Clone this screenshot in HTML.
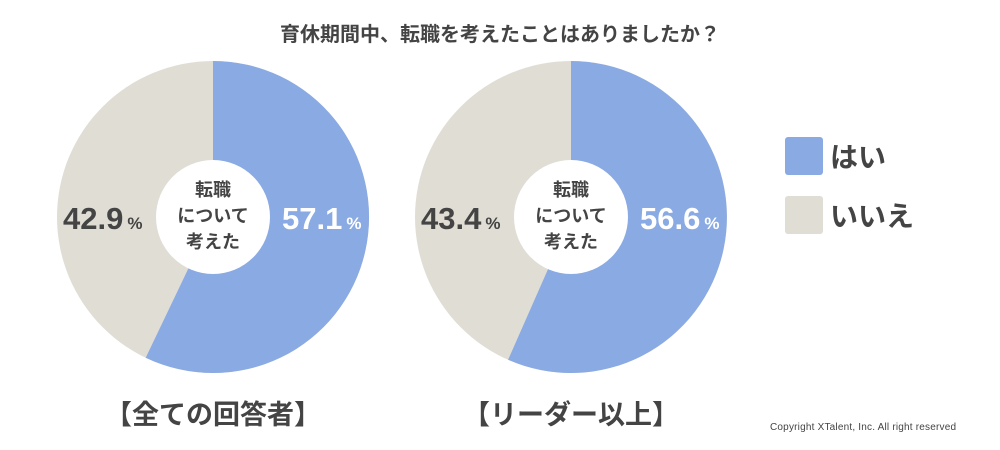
<!DOCTYPE html>
<html><head><meta charset="utf-8"><style>
html,body{margin:0;padding:0;background:#fff;}
svg{display:block;font-family:"Liberation Sans","Noto Sans CJK JP",sans-serif;}
</style></head><body>
<svg width="1000" height="450" viewBox="0 0 1000 450">
<text x="500" y="41" text-anchor="middle" font-size="20" font-weight="bold" fill="#444">育休期間中、転職を考えたことはありましたか？</text>

<circle cx="213" cy="217" r="156" fill="#e0ddd5"/>
<path d="M213,217 L213,61 A156,156 0 1,1 145.7,357.7 Z" fill="#8aaae3"/>
<circle cx="213" cy="217" r="57" fill="#fff"/>
<text x="213" y="196" text-anchor="middle" font-size="18" font-weight="bold" fill="#444">転職</text>
<text x="213" y="222" text-anchor="middle" font-size="18" font-weight="bold" fill="#444">について</text>
<text x="213" y="248" text-anchor="middle" font-size="18" font-weight="bold" fill="#444">考えた</text>
<text x="63" y="229" font-size="31" font-weight="bold" fill="#444">42.9<tspan dx="4" font-size="17">%</tspan></text>
<text x="282" y="229" font-size="31" font-weight="bold" fill="#fff">57.1<tspan dx="4" font-size="17">%</tspan></text>

<circle cx="571" cy="217" r="156" fill="#e0ddd5"/>
<path d="M571,217 L571,61 A156,156 0 1,1 508.1,359.8 Z" fill="#8aaae3"/>
<circle cx="571" cy="217" r="57" fill="#fff"/>
<text x="571" y="196" text-anchor="middle" font-size="18" font-weight="bold" fill="#444">転職</text>
<text x="571" y="222" text-anchor="middle" font-size="18" font-weight="bold" fill="#444">について</text>
<text x="571" y="248" text-anchor="middle" font-size="18" font-weight="bold" fill="#444">考えた</text>
<text x="421" y="229" font-size="31" font-weight="bold" fill="#444">43.4<tspan dx="4" font-size="17">%</tspan></text>
<text x="640" y="229" font-size="31" font-weight="bold" fill="#fff">56.6<tspan dx="4" font-size="17">%</tspan></text>

<rect x="785" y="137" width="38" height="38" rx="3" fill="#8aaae3"/>
<text x="830" y="167" font-size="28" font-weight="bold" fill="#444">はい</text>
<rect x="785" y="196" width="38" height="38" rx="3" fill="#e0ddd5"/>
<text x="830" y="226" font-size="28" font-weight="bold" fill="#444">いいえ</text>

<text x="213" y="424" text-anchor="middle" font-size="27" font-weight="bold" fill="#444">【全ての回答者】</text>
<text x="571" y="424" text-anchor="middle" font-size="27" font-weight="bold" fill="#444">【リーダー以上】</text>
<text x="770" y="430" font-size="10" letter-spacing="0.2" fill="#444">Copyright XTalent, Inc. All right reserved</text>
</svg>
</body></html>
